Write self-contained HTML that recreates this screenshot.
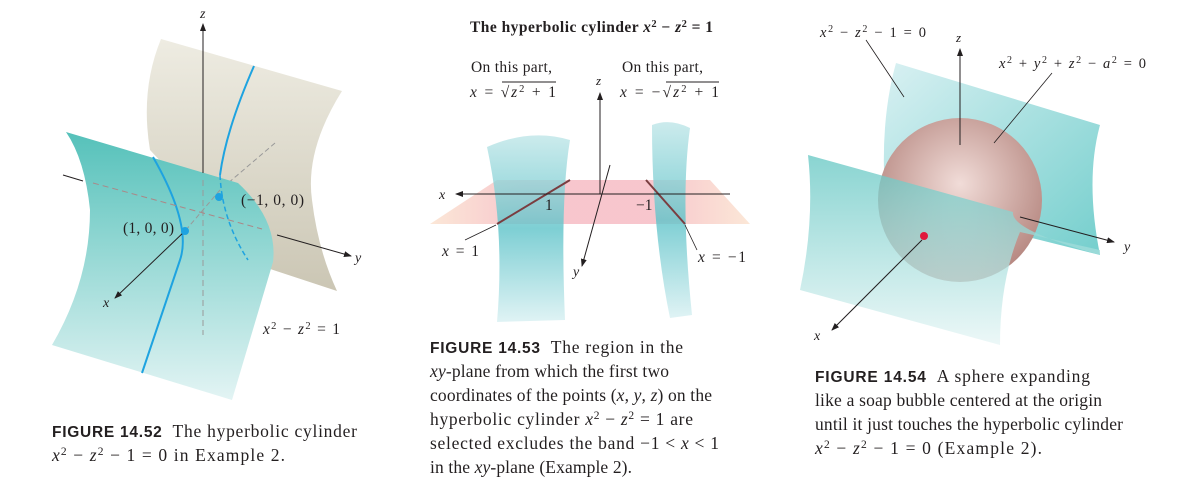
<!DOCTYPE html>
<html><head><meta charset="utf-8"><style>
html,body{margin:0;padding:0;background:#fff;}
svg{display:block;}
.s{font-family:"Liberation Serif",serif;fill:#231f20;}
.i{font-style:italic;}
.b{font-family:"Liberation Sans",sans-serif;font-weight:bold;fill:#231f20;}
</style></head><body>
<svg width="1180" height="495" viewBox="0 0 1180 495">
<defs>
<linearGradient id="tealg" x1="0" y1="0" x2="0" y2="1"><stop offset="0" stop-color="#55c1ba"/><stop offset="1" stop-color="#e3f4f4"/></linearGradient>
<linearGradient id="beig" x1="0" y1="0" x2="0" y2="1"><stop offset="0" stop-color="#eeece2"/><stop offset="1" stop-color="#cbc6b4"/></linearGradient>
<linearGradient id="t2" x1="0" y1="0" x2="0" y2="1"><stop offset="0" stop-color="#bfe6e8"/><stop offset="0.5" stop-color="#5ec3c9"/><stop offset="1" stop-color="#d8f0f2"/></linearGradient>
<linearGradient id="pl" x1="0" y1="0" x2="1" y2="0"><stop offset="0" stop-color="#fbe3d0"/><stop offset="0.3" stop-color="#f6bcc4"/><stop offset="0.7" stop-color="#f6bcc4"/><stop offset="1" stop-color="#fbe3d0"/></linearGradient>
<linearGradient id="t3" x1="0" y1="0" x2="1" y2="1"><stop offset="0" stop-color="#d2eef0"/><stop offset="1" stop-color="#5cc6c4"/></linearGradient>
<linearGradient id="t4" x1="0" y1="0" x2="0" y2="1"><stop offset="0" stop-color="#62c6c2"/><stop offset="1" stop-color="#e6f5f5"/></linearGradient>
<radialGradient id="sph" cx="0.5" cy="0.4" r="0.6"><stop offset="0" stop-color="#f1dcd8"/><stop offset="1" stop-color="#b5867f"/></radialGradient>
<marker id="ar" markerWidth="8" markerHeight="6" refX="7" refY="3" orient="auto"><path d="M0,0 L8,3 L0,6 z" fill="#231f20"/></marker>
</defs>

<!-- Panel 1 -->
<g>
<path d="M161,39 L342,91 Q305,150 312,200 Q318,250 337,291 L258,265 L150,150 Q140,90 161,39 z" fill="url(#beig)"/>
<path d="M254,66 Q226,130 220,175" stroke="#1ea3e0" stroke-width="2" fill="none"/>
<line x1="275" y1="143" x2="220" y2="190" stroke="#999" stroke-dasharray="5,3"/>
<path d="M66,132 L238,183 Q278,220 273,262 L232,400 L52,345 Q90,280 90,210 Q85,160 66,132 z" fill="url(#tealg)"/>
<path d="M220,175 Q222,220 248,260" stroke="#1ea3e0" stroke-width="1.5" fill="none" stroke-dasharray="5,3"/>
<path d="M153,157 Q192,225 180,260 Q160,320 142,373" stroke="#1ea3e0" stroke-width="2" fill="none"/>
<line x1="203" y1="173" x2="203" y2="24" stroke="#231f20" marker-end="url(#ar)"/>
<line x1="203" y1="180" x2="203" y2="335" stroke="#999" stroke-dasharray="6,4"/>
<line x1="93" y1="183" x2="262" y2="229" stroke="#a88" stroke-dasharray="6,4"/>
<line x1="63" y1="175" x2="83" y2="181" stroke="#231f20"/>
<line x1="220" y1="190" x2="185" y2="231" stroke="#999" stroke-dasharray="5,3"/>
<line x1="277" y1="235" x2="351" y2="256" stroke="#231f20" marker-end="url(#ar)"/>
<line x1="185" y1="231" x2="115" y2="298" stroke="#231f20" marker-end="url(#ar)"/>
<circle cx="219" cy="197" r="4" fill="#1ea3e0"/>
<circle cx="185" cy="231" r="4" fill="#1ea3e0"/>
<text class="s i" x="200" y="18" font-size="14">z</text>
<text class="s i" x="355" y="262" font-size="14">y</text>
<text class="s i" x="103" y="307" font-size="14">x</text>
<text class="s" x="123" y="233" font-size="15.5" textLength="51" lengthAdjust="spacing">(1, 0, 0)</text>
<text class="s" x="241" y="205" font-size="15.5" textLength="63" lengthAdjust="spacing">(−1, 0, 0)</text>
<text class="s" x="263" y="334" font-size="15.5" textLength="77" lengthAdjust="spacing"><tspan class="i">x</tspan><tspan dy="-5" font-size="10.5">2</tspan><tspan dy="5"> − </tspan><tspan class="i">z</tspan><tspan dy="-5" font-size="10.5">2</tspan><tspan dy="5"> = 1</tspan></text>
<text x="52" y="437" font-size="15.5" textLength="305" lengthAdjust="spacing"><tspan class="b">FIGURE 14.52</tspan><tspan class="s" dx="10" font-size="17.5">The hyperbolic cylinder</tspan></text>
<text class="s" x="52" y="461" font-size="17.5" textLength="233" lengthAdjust="spacing"><tspan class="i">x</tspan><tspan dy="-6" font-size="11.5">2</tspan><tspan dy="6"> − </tspan><tspan class="i">z</tspan><tspan dy="-6" font-size="11.5">2</tspan><tspan dy="6"> − 1 = 0 in Example 2.</tspan></text>
</g>

<!-- Panel 2 -->
<g>
<text class="s" x="470" y="32" font-size="15.5" font-weight="bold" textLength="243" lengthAdjust="spacing">The hyperbolic cylinder <tspan class="i">x</tspan><tspan dy="-5" font-size="10.5">2</tspan><tspan dy="5"> − </tspan><tspan class="i">z</tspan><tspan dy="-5" font-size="10.5">2</tspan><tspan dy="5"> = 1</tspan></text>
<text class="s" x="471" y="72" font-size="15.5" textLength="81" lengthAdjust="spacing">On this part,</text>
<text class="s" x="470" y="97" font-size="15.5" textLength="86" lengthAdjust="spacing"><tspan class="i">x</tspan> = √<tspan class="i">z</tspan><tspan dy="-5" font-size="10.5">2</tspan><tspan dy="5"> + 1</tspan></text>
<line x1="502" y1="82" x2="556" y2="82" stroke="#231f20"/>
<text class="s" x="622" y="72" font-size="15.5" textLength="81" lengthAdjust="spacing">On this part,</text>
<text class="s" x="620" y="97" font-size="15.5" textLength="99" lengthAdjust="spacing"><tspan class="i">x</tspan> = −√<tspan class="i">z</tspan><tspan dy="-5" font-size="10.5">2</tspan><tspan dy="5"> + 1</tspan></text>
<line x1="666" y1="82" x2="719" y2="82" stroke="#231f20"/>
<path d="M430,224 L497,180 L710,180 L750,224 z" fill="url(#pl)" opacity="0.85"/>
<path d="M487,147 Q530,128 570,140 Q560,200 565,320 L497,322 Q505,230 487,147 z" fill="url(#t2)" opacity="0.8"/>
<path d="M652,125 Q670,118 690,128 Q680,200 692,315 L670,318 Q652,230 652,125 z" fill="url(#t2)" opacity="0.8"/>
<line x1="497" y1="224" x2="570" y2="180" stroke="#7a3d40" stroke-width="2"/>
<line x1="646" y1="180" x2="685" y2="224" stroke="#7a3d40" stroke-width="2"/>
<line x1="497" y1="194" x2="730" y2="194" stroke="#aaa" stroke-dasharray="5,3"/>
<line x1="730" y1="194" x2="456" y2="194" stroke="#231f20" marker-end="url(#ar)"/>
<line x1="600" y1="194" x2="600" y2="93" stroke="#231f20" marker-end="url(#ar)"/>
<line x1="610" y1="165" x2="582" y2="266" stroke="#231f20" marker-end="url(#ar)"/>
<text class="s i" x="596" y="85" font-size="13">z</text>
<text class="s i" x="439" y="199" font-size="14">x</text>
<text class="s i" x="573" y="276" font-size="14">y</text>
<text class="s" x="545" y="210" font-size="15.5">1</text>
<text class="s" x="636" y="210" font-size="15.5">−1</text>
<line x1="465" y1="240" x2="496" y2="225" stroke="#231f20" stroke-width="0.8"/>
<text class="s" x="442" y="256" font-size="15.5" textLength="37" lengthAdjust="spacing"><tspan class="i">x</tspan> = 1</text>
<line x1="685" y1="225" x2="697" y2="250" stroke="#231f20" stroke-width="0.8"/>
<text class="s" x="698" y="262" font-size="15.5" textLength="48" lengthAdjust="spacing"><tspan class="i">x</tspan> = −1</text>
<text x="430" y="353" font-size="15.5" textLength="253" lengthAdjust="spacing"><tspan class="b">FIGURE 14.53</tspan><tspan class="s" dx="10" font-size="17.5">The region in the</tspan></text>
<text class="s" x="430" y="377" font-size="17.5" textLength="239" lengthAdjust="spacing"><tspan class="i">xy</tspan>-plane from which the first two</text>
<text class="s" x="430" y="401" font-size="17.5" textLength="282" lengthAdjust="spacing">coordinates of the points (<tspan class="i">x</tspan>, <tspan class="i">y</tspan>, <tspan class="i">z</tspan>) on the</text>
<text class="s" x="430" y="425" font-size="17.5" textLength="263" lengthAdjust="spacing">hyperbolic cylinder <tspan class="i">x</tspan><tspan dy="-6" font-size="11.5">2</tspan><tspan dy="6"> − </tspan><tspan class="i">z</tspan><tspan dy="-6" font-size="11.5">2</tspan><tspan dy="6"> = 1 are</tspan></text>
<text class="s" x="430" y="449" font-size="17.5" textLength="289" lengthAdjust="spacing">selected excludes the band −1 &lt; <tspan class="i">x</tspan> &lt; 1</text>
<text class="s" x="430" y="473" font-size="17.5" textLength="202" lengthAdjust="spacing">in the <tspan class="i">xy</tspan>-plane (Example 2).</text>
</g>

<!-- Panel 3 -->
<g>
<path d="M896,63 L1100,125 Q1085,180 1100,255 L1000,230 L885,195 Q880,120 896,63 z" fill="url(#t3)" opacity="0.85"/>
<circle cx="960" cy="200" r="82" fill="url(#sph)"/>
<path d="M808,155 L1013,212 Q1010,230 1100,255 L1100,250 L1020,232 Q1000,280 1000,345 L800,290 Q815,220 808,155 z" fill="url(#t4)" opacity="0.75"/>
<line x1="960" y1="145" x2="960" y2="49" stroke="#231f20" marker-end="url(#ar)"/>
<line x1="1020" y1="217" x2="1114" y2="242" stroke="#231f20" marker-end="url(#ar)"/>
<line x1="922" y1="240" x2="832" y2="330" stroke="#231f20" marker-end="url(#ar)"/>
<circle cx="924" cy="236" r="4" fill="#e0183c"/>
<line x1="866" y1="40" x2="904" y2="97" stroke="#231f20" stroke-width="0.8"/>
<line x1="1052" y1="73" x2="994" y2="143" stroke="#231f20" stroke-width="0.8"/>
<text class="s i" x="956" y="42" font-size="13">z</text>
<text class="s i" x="1124" y="251" font-size="14">y</text>
<text class="s i" x="814" y="340" font-size="14">x</text>
<text class="s" x="820" y="37" font-size="14.5" textLength="106" lengthAdjust="spacing"><tspan class="i">x</tspan><tspan dy="-5" font-size="10">2</tspan><tspan dy="5"> − </tspan><tspan class="i">z</tspan><tspan dy="-5" font-size="10">2</tspan><tspan dy="5"> − 1 = 0</tspan></text>
<text class="s" x="999" y="68" font-size="14.5" textLength="147" lengthAdjust="spacing"><tspan class="i">x</tspan><tspan dy="-5" font-size="10">2</tspan><tspan dy="5"> + </tspan><tspan class="i">y</tspan><tspan dy="-5" font-size="10">2</tspan><tspan dy="5"> + </tspan><tspan class="i">z</tspan><tspan dy="-5" font-size="10">2</tspan><tspan dy="5"> − </tspan><tspan class="i">a</tspan><tspan dy="-5" font-size="10">2</tspan><tspan dy="5"> = 0</tspan></text>
<text x="815" y="382" font-size="15.5" textLength="275" lengthAdjust="spacing"><tspan class="b">FIGURE 14.54</tspan><tspan class="s" dx="10" font-size="17.5">A sphere expanding</tspan></text>
<text class="s" x="815" y="406" font-size="17.5" textLength="287" lengthAdjust="spacing">like a soap bubble centered at the origin</text>
<text class="s" x="815" y="430" font-size="17.5" textLength="308" lengthAdjust="spacing">until it just touches the hyperbolic cylinder</text>
<text class="s" x="815" y="454" font-size="17.5" textLength="227" lengthAdjust="spacing"><tspan class="i">x</tspan><tspan dy="-6" font-size="11.5">2</tspan><tspan dy="6"> − </tspan><tspan class="i">z</tspan><tspan dy="-6" font-size="11.5">2</tspan><tspan dy="6"> − 1 = 0 (Example 2).</tspan></text>
</g>
</svg>
</body></html>
